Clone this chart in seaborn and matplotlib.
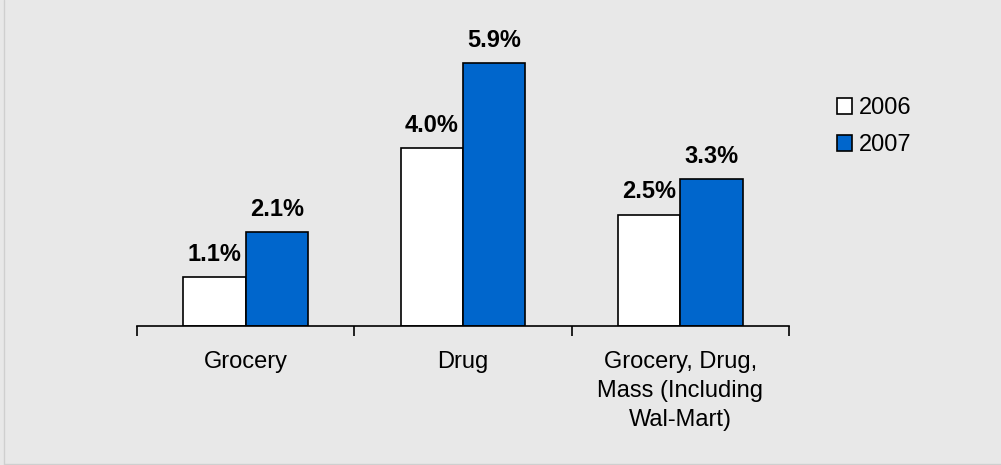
import matplotlib
matplotlib.use("Agg")
import matplotlib.pyplot as plt
import seaborn as sns
import pandas as pd
from matplotlib.patches import Patch
from matplotlib.lines import Line2D

categories = ["Grocery", "Drug", "Grocery, Drug,\nMass (Including\nWal-Mart)"]
years = ["2006", "2007"]
values_2006 = [1.1, 4.0, 2.5]
values_2007 = [2.1, 5.9, 3.3]
colors = {"2006": "#FFFFFF", "2007": "#0066CC"}

df = pd.DataFrame({
    "category": categories * 2,
    "year": ["2006"] * 3 + ["2007"] * 3,
    "value": values_2006 + values_2007,
})

sns.set_style("white")
plt.rcParams["font.family"] = ["Liberation Sans", "DejaVu Sans"]
plt.rcParams["text.color"] = "black"
plt.rcParams["xtick.color"] = "black"
plt.rcParams["xtick.labelcolor"] = "black"
FS = 17
FS_PX = FS * 100 / 72

fig = plt.figure(figsize=(10.01, 4.65), dpi=100, facecolor="#E8E8E8")
ax = fig.add_axes([137 / 1001, (465 - 326) / 465, 652 / 1001, 312 / 465])
ax.set_facecolor("none")

sns.barplot(data=df, x="category", y="value", hue="year", order=categories,
            hue_order=years, palette=colors, edgecolor="black", linewidth=1.2,
            width=0.573, gap=0, legend=False, ax=ax, errorbar=None, saturation=1)

for cont, vals in zip(ax.containers, [values_2006, values_2007]):
    ax.bar_label(cont, labels=[f"{v:.1f}%" for v in vals], padding=8,
                 fontsize=FS, fontweight="bold", color="black")

ax.set_xlim(-0.5, 2.5)
ax.set_ylim(0, 7)
ax.set_xlabel("")
ax.set_ylabel("")
ax.set_yticks([])
for s in ["top", "right", "left"]:
    ax.spines[s].set_visible(False)
ax.spines["bottom"].set_color("black")
ax.spines["bottom"].set_linewidth(1.2)

ax.set_xticks([0, 1, 2])
ax.set_xticklabels(categories, fontsize=FS, linespacing=1.25, ha="center",
                   multialignment="center", color="black")
ax.set_xticks([-0.5, 0.5, 1.5, 2.5], minor=True)
ax.tick_params(axis="x", which="major", length=0, pad=18)
ax.tick_params(axis="x", which="minor", length=7, width=1.2, color="black",
               direction="out", bottom=True)

handles = [Patch(facecolor=colors[y], edgecolor="black", linewidth=1.2, label=y)
           for y in years]
LS = 0.72
def make_legend(ls):
    lg = fig.legend(handles=handles, loc="center left",
                    bbox_to_anchor=(837 / 1001, (465 - 126.5) / 465),
                    frameon=False, fontsize=FS, handlelength=0.64, handleheight=0.64,
                    handletextpad=0.3, labelspacing=ls, borderpad=0, borderaxespad=0)
    for t in lg.get_texts():
        t.set_color("black")
    return lg
leg = make_legend(LS)

# layout tuning: match line spacing of multi-line label (~29.5 px) and legend rows (~37 px)
fig.canvas.draw()
r = fig.canvas.get_renderer()
labs = ax.get_xticklabels()
h1 = labs[0].get_window_extent(r).height
h3 = labs[2].get_window_extent(r).height
dy = (h3 - h1) / 2
if dy > 0:
    new_ls = 1.25 * 29.5 / dy
    for t in labs:
        t.set_linespacing(new_ls)
texts = leg.get_texts()
c0 = texts[0].get_window_extent(r)
c1 = texts[1].get_window_extent(r)
rowdy = abs((c0.y0 + c0.y1) / 2 - (c1.y0 + c1.y1) / 2)
leg.remove()
leg = make_legend(LS + (37 - rowdy) / FS_PX)

fig.add_artist(Line2D([3.5 / 1001, 3.5 / 1001], [1.5 / 465, 1], transform=fig.transFigure,
                      color="#CFCFCF", linewidth=1))
fig.add_artist(Line2D([3.5 / 1001, 1], [1.5 / 465, 1.5 / 465], transform=fig.transFigure,
                      color="#CFCFCF", linewidth=1))

fig.savefig("out.png", dpi=100, facecolor=fig.get_facecolor())
